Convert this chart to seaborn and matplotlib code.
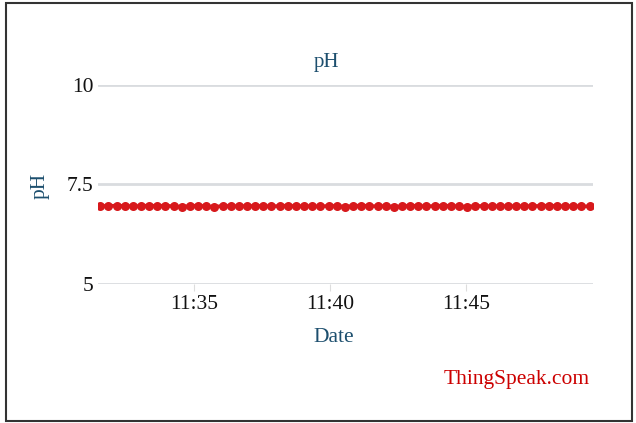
import seaborn as sns
import matplotlib.pyplot as plt
import matplotlib.dates as mdates
import pandas as pd

# readings (one every ~18 s)
start_time = '2024-01-01 11:31:33'
n_points = 61
ph_values = [6.96, 6.96, 6.97, 6.96, 6.95, 6.96, 6.97, 6.96, 6.97, 6.95,
             6.94, 6.96, 6.97, 6.95, 6.94, 6.96, 6.96, 6.95, 6.96, 6.96,
             6.96, 6.95, 6.96, 6.97, 6.95, 6.96, 6.95, 6.95, 6.96, 6.96,
             6.94, 6.96, 6.97, 6.96, 6.95, 6.96, 6.94, 6.95, 6.97, 6.96,
             6.95, 6.96, 6.97, 6.96, 6.95, 6.94, 6.96, 6.96, 6.95, 6.96,
             6.95, 6.96, 6.95, 6.96, 6.96, 6.97, 6.96, 6.95, 6.96, 6.95, 6.95]
x_ticks = ['2024-01-01 11:35', '2024-01-01 11:40', '2024-01-01 11:45']
y_ticks = [5, 7.5, 10]

df = pd.DataFrame({'Date': pd.date_range(start_time, periods=n_points, freq='18s'),
                   'pH': ph_values})

sns.set_style('white')
plt.rcParams['font.family'] = ['Liberation Serif', 'DejaVu Serif']

teal = '#1d4f6e'
fig = plt.figure(figsize=(6.36, 4.23), dpi=100)
ax = fig.add_axes([0.154, 0.329, 0.778, 0.470])

sns.lineplot(data=df, x='Date', y='pH', ax=ax, color='#d7191c', marker='o',
             markersize=6.5, markeredgewidth=0, linewidth=2.5)

ax.set_ylim(5, 10)
ax.set_xlim(pd.Timestamp('2024-01-01 11:31:28'), pd.Timestamp('2024-01-01 11:49:40'))
ax.set_yticks(y_ticks)
ax.set_yticklabels(['5', '7.5', '10'])
ax.set_xticks(pd.to_datetime(x_ticks))
ax.xaxis.set_major_formatter(mdates.DateFormatter('%H:%M'))
ax.yaxis.grid(True, color='#d9dcdf', linewidth=2)
ax.set_axisbelow(True)
for s in ax.spines.values():
    s.set_visible(False)
ax.tick_params(axis='x', length=5, color='#dddddd', labelsize=15.5, pad=3,
               direction='out', bottom=True, labelcolor='#111111')
ax.tick_params(axis='y', length=0, labelsize=15.5, pad=3, labelcolor='#111111')
ax.set_xlabel('')
ax.set_ylabel('')

fig.text(326 / 636, 1 - 62 / 423, 'pH', color=teal, fontsize=15, ha='center', va='center')
fig.text(334 / 636, 1 - 337 / 423, 'Date', color=teal, fontsize=15.5, ha='center', va='center')
fig.text(40 / 636, 1 - 186 / 423, 'pH', color=teal, fontsize=15.5, ha='center', va='center',
         rotation=90)
fig.text(590 / 636, 1 - 379 / 423, 'ThingSpeak.com', color='#cc0000', fontsize=15.5,
         ha='right', va='center')

border = plt.Rectangle((0.0094, 0.005), 0.985, 0.988, transform=fig.transFigure,
                       fill=False, edgecolor='#333333', linewidth=1.5)
fig.patches.append(border)

plt.savefig('out.png', dpi=100)
